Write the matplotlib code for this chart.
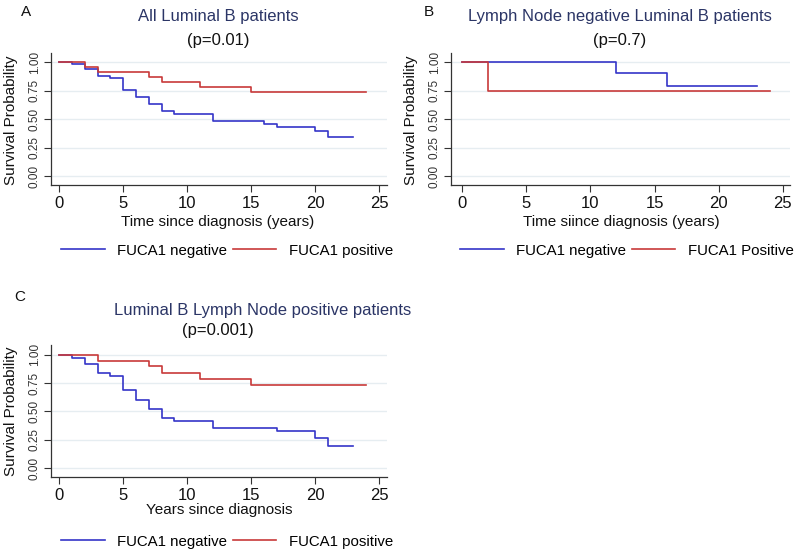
import matplotlib
matplotlib.use("Agg")
import matplotlib.pyplot as plt
from matplotlib.lines import Line2D

plt.rcParams['font.family'] = ['Liberation Sans', 'DejaVu Sans']

# ---- data (step functions: time of change, survival after change) ----
a_neg_t = [0, 1, 2, 3, 4, 5, 6, 7, 8, 9, 12, 16, 17, 20, 21, 23]
a_neg_s = [1.0, 0.982, 0.94, 0.882, 0.859, 0.756, 0.691, 0.629, 0.568, 0.547, 0.482, 0.459, 0.432, 0.397, 0.341, 0.341]
a_pos_t = [0, 2, 3, 7, 8, 11, 15, 24]
a_pos_s = [1.0, 0.962, 0.915, 0.871, 0.826, 0.785, 0.738, 0.738]

b_neg_t = [0, 12, 16, 23]
b_neg_s = [1.0, 0.909, 0.795, 0.795]
b_pos_t = [0, 2, 24]
b_pos_s = [1.0, 0.75, 0.75]

c_neg_t = [0, 1, 2, 3, 4, 5, 6, 7, 8, 9, 12, 17, 20, 21, 23]
c_neg_s = [1.0, 0.974, 0.921, 0.842, 0.815, 0.686, 0.604, 0.519, 0.44, 0.414, 0.355, 0.326, 0.267, 0.2, 0.2]
c_pos_t = [0, 3, 7, 8, 11, 15, 24]
c_pos_s = [1.0, 0.947, 0.897, 0.842, 0.789, 0.736, 0.736]

xticks = [0, 5, 10, 15, 20, 25]
yticks = [0.0, 0.25, 0.5, 0.75, 1.0]
ytick_labels = ["0.00", "0.25", "0.50", "0.75", "1.00"]

BLUE = "#3535c8"
RED = "#c83a3a"
NAVY = "#2b3566"
GRID = "#e6edf1"

W, H = 800, 555
fig = plt.figure(figsize=(8, 5.55), dpi=100)


def px(x, y):
    return x / W, 1 - y / H


def make_panel(left, right, top, bottom, xlim, ylim, neg, pos, xlabel, leg_labels,
               letter, letter_xy, t1, t1_xy, t2, t2_xy, xlabel_xy, ylabel_xy, leg_xy):
    l, b = px(left, bottom)
    r, t = px(right, top)
    ax = fig.add_axes([l, b, r - l, t - b])
    ax.step(neg[0], neg[1], where='post', color=BLUE, lw=1.2)
    ax.step(pos[0], pos[1], where='post', color=RED, lw=1.2)
    ax.set_xlim(*xlim)
    ax.set_ylim(*ylim)
    ax.set_xticks(xticks)
    ax.set_yticks(yticks)
    ax.set_yticklabels(ytick_labels)
    for s in ['top', 'right']:
        ax.spines[s].set_visible(False)
    for s in ['left', 'bottom']:
        ax.spines[s].set_color('#333333')
        ax.spines[s].set_linewidth(0.9)
    ax.yaxis.grid(True, color=GRID, lw=1.0)
    ax.set_axisbelow(True)
    ax.tick_params(axis='x', direction='out', length=5, width=0.8, color='#333333',
                   labelsize=12, pad=3, labelcolor='#111111')
    ax.tick_params(axis='y', direction='out', length=5, width=0.8, color='#333333',
                   labelsize=8.5, pad=2, labelcolor='#333333')
    for lab in ax.get_yticklabels():
        lab.set_rotation(90)
        lab.set_va('center')
    x, y = px(*ylabel_xy)
    fig.text(x, y, "Survival Probability", rotation=90, ha='center', va='center',
             fontsize=11, color='#111111')
    x, y = px(*xlabel_xy)
    fig.text(x, y, xlabel, ha='center', va='center', fontsize=11, color='#111111')
    x, y = px(*letter_xy)
    fig.text(x, y, letter, ha='center', va='center', fontsize=11, color='#111111')
    x, y = px(*t1_xy)
    fig.text(x, y, t1, ha='center', va='center', fontsize=12, color=NAVY)
    x, y = px(*t2_xy)
    fig.text(x, y, t2, ha='center', va='center', fontsize=12, color='#111111')
    handles = [Line2D([], [], color=BLUE, lw=1.2), Line2D([], [], color=RED, lw=1.2)]
    x, y = px(*leg_xy)
    fig.legend(handles, leg_labels, loc='center', bbox_to_anchor=(x, y), ncol=2,
               frameon=False, fontsize=10.8, handlelength=2.9, handletextpad=0.85,
               columnspacing=0.35, borderaxespad=0, borderpad=0)
    return ax


YLIM = (-0.079, 1.085)

make_panel(50.7, 387, 52.5, 185, (-0.67, 25.63), YLIM,
           (a_neg_t, a_neg_s), (a_pos_t, a_pos_s), "Time since diagnosis (years)",
           ["FUCA1 negative", "FUCA1 positive"],
           "A", (26, 12), "All Luminal B patients", (218, 17), "(p=0.01)", (218, 40),
           (218, 222), (11, 120), (227, 250.5))

make_panel(450.7, 790, 52.5, 185, (-0.905, 25.57), YLIM,
           (b_neg_t, b_neg_s), (b_pos_t, b_pos_s), "Time siince diagnosis (years)",
           ["FUCA1 negative", "FUCA1 Positive"],
           "B", (429, 12), "Lymph Node negative Luminal B patients", (620, 17),
           "(p=0.7)", (620, 40), (621, 222), (411, 120), (627, 250.5))

make_panel(50.7, 387, 345, 477.3, (-0.67, 25.63), YLIM,
           (c_neg_t, c_neg_s), (c_pos_t, c_pos_s), "Years since diagnosis",
           ["FUCA1 negative", "FUCA1 positive"],
           "C", (20, 297), "Luminal B Lymph Node positive patients", (263, 310),
           "(p=0.001)", (218, 331), (219, 510), (11, 411), (227, 541.7))

fig.savefig("out.png", dpi=100, facecolor='white')
